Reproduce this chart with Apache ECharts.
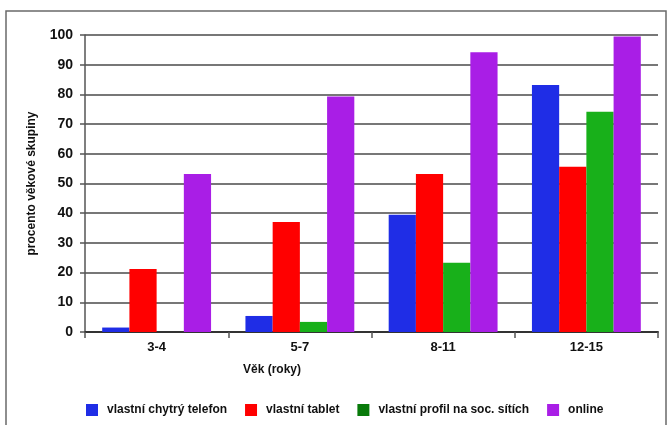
<!DOCTYPE html>
<html>
<head>
<meta charset="utf-8">
<script src="https://cdn.jsdelivr.net/npm/echarts@6/dist/echarts.min.js"></script>
<style>
  html, body { margin: 0; padding: 0; background: #fff; }
  #chart { width: 668px; height: 425px; }
</style>
</head>
<body>
<div id="chart"></div>
<script>
// data
var vekoveSkupiny = ['3-4', '5-7', '8-11', '12-15'];
var telefon = [1.5, 5.4, 39.5, 83.2];
var tablet = [21.2, 37, 53.2, 55.6];
var profil = [0, 3.4, 23.3, 74.2];
var online = [53.2, 79.3, 94.2, 99.5];
var yTicks = [0, 10, 20, 30, 40, 50, 60, 70, 80, 90, 100];

var font = '"Liberation Sans", Arial, sans-serif';

var chart = echarts.init(document.getElementById('chart'));

function serie(name, data, barva) {
    return {
        name: name,
        type: 'bar',
        data: data,
        barGap: 0,
        barCategoryGap: '24%',
        itemStyle: { color: barva },
        animation: false
    };
}

var option = {
    backgroundColor: '#ffffff',
    textStyle: { fontFamily: font },
    grid: { left: 85, right: 10, top: 35, bottom: 93, containLabel: false },
    graphic: [
        {
            // ramecek kolem grafu
            type: 'rect',
            shape: { x: 6, y: 11, width: 660, height: 420 },
            style: { fill: 'none', stroke: '#6a6a6a', lineWidth: 1.5 },
            z: -1
        },
        {
            type: 'text',
            left: 243,
            top: 364,
            style: { text: 'Věk (roky)', font: 'bold 12px ' + font, fill: '#111' }
        }
    ],
    legend: {
        bottom: 4,
        left: 81,
        itemWidth: 12,
        itemHeight: 12,
        itemGap: 18,
        icon: 'rect',
        textStyle: { fontFamily: font, fontWeight: 'bold', fontSize: 12, color: '#111', padding: [0, 0, 0, 4] },
        data: [
            { name: 'vlastní chytrý telefon', itemStyle: { color: '#1f2de6' } },
            { name: 'vlastní tablet', itemStyle: { color: '#ff0000' } },
            { name: 'vlastní profil na soc. sítích', itemStyle: { color: '#087a0a' } },
            { name: 'online', itemStyle: { color: '#a91ee6' } }
        ]
    },
    xAxis: {
        type: 'category',
        data: vekoveSkupiny,
        axisLine: { lineStyle: { color: '#333', width: 2 } },
        axisTick: { show: true, length: 6, lineStyle: { color: '#555', width: 1.5 } },
        axisLabel: { fontFamily: font, fontWeight: 'bold', fontSize: 13, color: '#111', margin: 9 }
    },
    yAxis: {
        type: 'value',
        min: yTicks[0],
        max: yTicks[yTicks.length - 1],
        interval: 10,
        name: 'procento věkové skupiny',
        nameLocation: 'middle',
        nameGap: 47,
        nameTextStyle: { fontFamily: font, fontWeight: 'bold', fontSize: 12, color: '#111' },
        axisLine: { show: true, lineStyle: { color: '#555', width: 1.5 } },
        axisTick: { show: true, length: 5, lineStyle: { color: '#555', width: 1.5 } },
        axisLabel: { fontFamily: font, fontWeight: 'bold', fontSize: 14, color: '#111', margin: 12 },
        splitLine: { lineStyle: { color: '#4a4a4a', width: 1.5 } }
    },
    series: [
        serie('vlastní chytrý telefon', telefon, '#1f2de6'),
        serie('vlastní tablet', tablet, '#ff0000'),
        serie('vlastní profil na soc. sítích', profil, '#18b01a'),
        serie('online', online, '#a91ee6')
    ]
};

chart.setOption(option);
</script>
</body>
</html>
